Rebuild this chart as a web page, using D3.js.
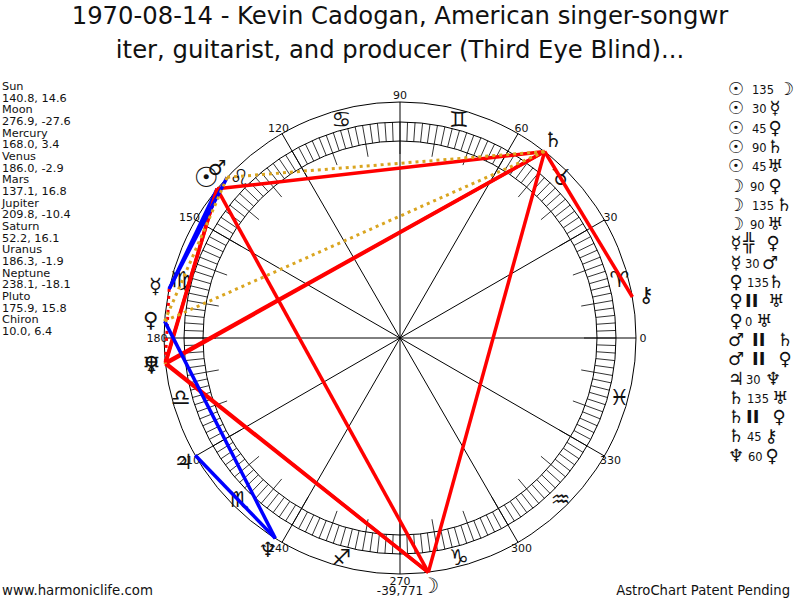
<!DOCTYPE html>
<html><head><meta charset="utf-8">
<script src="https://cdnjs.cloudflare.com/ajax/libs/d3/7.8.5/d3.min.js"></script>
<style>html,body{margin:0;background:#fff}svg{display:block}text{font-family:"DejaVu Sans",sans-serif;fill:#111}</style>
</head><body><svg id="c" width="800" height="600"></svg>
<script>
const titleLines = ["1970-08-14 - Kevin Cadogan, American singer-songwr","iter, guitarist, and producer (Third Eye Blind)..."];
const planetNames = ["Sun","Moon","Mercury","Venus","Mars","Jupiter","Saturn","Uranus","Neptune","Pluto","Chiron"];
const planetKeys = ["sun","moon","mercury","venus","mars","jupiter","saturn","uranus","neptune","pluto","chiron"];
const planetLongitudes = [140.8,276.9,168.0,186.0,137.1,209.8,52.2,186.3,238.1,175.9,10.0];
const planetDeclinations = [14.6,-27.6,3.4,-2.9,16.8,-10.4,16.1,-1.9,-18.1,15.8,6.4];
const planetGlyphs = ["\u2609","\u263D","\u263F","\u2640","\u2642","\u2643","\u2644","\u2645","\u2646","\u2640","\u26B7"];
const signGlyphs = ["\u2648","\u2649","\u264A","\u264B","\u264C","\u264D","\u264E","\u264F","\u2650","\u2651","\u2652","\u2653"];
const degreeLabels = [0,30,60,90,120,150,180,210,240,270,300,330];
const aspectFrom = ["sun","sun","sun","sun","sun","moon","moon","moon","mercury","mercury","venus","venus","venus","mars","mars","jupiter","saturn","saturn","saturn","neptune"];
const aspectTo = ["moon","mercury","venus","saturn","uranus","venus","saturn","uranus","venus","mars","saturn","uranus","uranus","saturn","pluto","neptune","uranus","pluto","chiron","pluto"];
const aspectLabels = ["135","30","45","90","45","90","135","90","#","30","135","II","0","II","II","30","135","II","45","60"];
const footerLeft = "www.harmoniclife.com", footerRight = "AstroChart Patent Pending", scoreLabel = "-39,771";

const svg = d3.select("#c");
const cx = 400, cy = 338, R = 236, ringO = 216, ringI = 197, longIn = 184;
const angle = d3.scaleLinear().domain([0,360]).range([0,-2*Math.PI]);
const px = (deg,r)=>cx+r*Math.cos(angle(deg));
const py = (deg,r)=>cy+r*Math.sin(angle(deg));
const lon = k=>planetLongitudes[planetKeys.indexOf(k)];
const glyph = k=>planetGlyphs[planetKeys.indexOf(k)]+"\uFE0E";

svg.selectAll(".title").data(titleLines).join("text").attr("x",400).attr("y",(d,i)=>[24,58][i])
  .attr("text-anchor","middle").attr("font-size",24.3).text(d=>d);

// left table
const tableRows = planetNames.flatMap((n,i)=>[n, `${planetLongitudes[i].toFixed(1)}, ${planetDeclinations[i].toFixed(1)}`]);
svg.selectAll(".tbl").data(tableRows).join("text").attr("x",2).attr("y",(d,i)=>90+i*11.67)
  .attr("font-size",11.3).text(d=>d);

// wheel
const g = svg.append("g").attr("fill","none").attr("stroke","#000").attr("stroke-width",1);
[R,ringO,ringI].forEach(r=>g.append("circle").attr("cx",cx).attr("cy",cy).attr("r",r));
g.selectAll(".tick").data(d3.range(0,360,2)).join("line").attr("stroke-width",0.8)
  .attr("x1",d=>px(d,d%10===0?longIn:ringI)).attr("y1",d=>py(d,d%10===0?longIn:ringI))
  .attr("x2",d=>px(d,ringO)).attr("y2",d=>py(d,ringO));
g.selectAll(".spoke").data(degreeLabels).join("line")
  .attr("x1",cx).attr("y1",cy).attr("x2",d=>px(d,R)).attr("y2",d=>py(d,R));

svg.selectAll(".deg").data(degreeLabels).join("text").attr("x",d=>px(d,243)).attr("y",d=>py(d,243)+4)
  .attr("text-anchor","middle").attr("font-size",11).text(d=>d);

svg.selectAll(".sign").data(signGlyphs).join("text")
  .attr("x",(d,i)=>px(15+30*i,227)).attr("y",(d,i)=>py(15+30*i,227)+8)
  .attr("text-anchor","middle").attr("font-size",22).text(d=>d+"\uFE0E");

// aspects
const aspectStyle = a => a==="II" ? {c:"#DAA520",w:3,d:"3 4"} : a==="#" ? {c:"#FF0000",w:3,d:"3 4"}
  : (a==="30"||a==="60") ? {c:"#0000FF",w:3.5,d:null} : {c:"#FF0000",w:3.5,d:null};
const order = aspectLabels.map((a,i)=>i).filter(i=>aspectLabels[i]!=="0")
  .sort((x,y)=>(aspectLabels[x]==="II"?1:0)-(aspectLabels[y]==="II"?1:0));
svg.selectAll(".asp").data(order).join("line")
  .attr("x1",i=>px(lon(aspectFrom[i]),R)).attr("y1",i=>py(lon(aspectFrom[i]),R))
  .attr("x2",i=>px(lon(aspectTo[i]),R)).attr("y2",i=>py(lon(aspectTo[i]),R))
  .attr("stroke",i=>aspectStyle(aspectLabels[i]).c).attr("stroke-width",i=>aspectStyle(aspectLabels[i]).w)
  .attr("stroke-dasharray",i=>aspectStyle(aspectLabels[i]).d);

// planets
svg.selectAll(".pl").data(planetKeys).join("text")
  .attr("x",k=>px(lon(k),250)).attr("y",k=>py(lon(k),250)+7)
  .attr("text-anchor","middle").attr("font-size",k=>k==="sun"?28:21).text(k=>glyph(k));

// aspect legend
const legendTextX = [752,752,752,752,752,750,752,750,743,745,747,745,745,752,752,746,747,746,747,748];
const legendGlyphX = [786,775,775,775,775,775,784,775,773,770,776,776,764,785,785,773,780,779,771,772];
const rowY = i=>89+i*19.3;
aspectLabels.forEach((a,i)=>{
  svg.append("text").attr("x",736).attr("y",rowY(i)+6).attr("text-anchor","middle").attr("font-size",18).text(glyph(aspectFrom[i]));
  const sym = a==="II"||a==="#";
  svg.append("text").attr("x",legendTextX[i]).attr("y",rowY(i)+(sym?6:5)).attr("font-size",sym?18:11.5)
    .attr("font-weight",sym?"bold":"normal").text(a==="#"?"\u256C":a);
  svg.append("text").attr("x",legendGlyphX[i]).attr("y",rowY(i)+6).attr("text-anchor","middle").attr("font-size",18).text(glyph(aspectTo[i]));
});

// footer
svg.append("text").attr("x",2).attr("y",595).attr("font-size",13.3).text(footerLeft);
svg.append("text").attr("x",790).attr("y",595).attr("text-anchor","end").attr("font-size",13.2).text(footerRight);
svg.append("text").attr("x",400).attr("y",595).attr("text-anchor","middle").attr("font-size",12).text(scoreLabel);
</script></body></html>
